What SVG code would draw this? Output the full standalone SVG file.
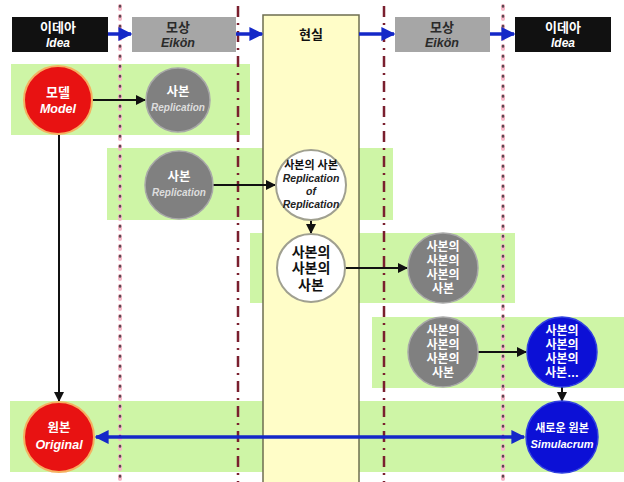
<svg xmlns="http://www.w3.org/2000/svg" width="624" height="482" viewBox="0 0 624 482">
<style>
text{font-family:"Liberation Sans","Noto Sans CJK KR",sans-serif;font-weight:bold;text-anchor:middle}
.it{font-style:italic}
.w{fill:#ffffff}
.k{fill:#111111}
.band{fill:#cef5a6}
.dot{fill:none;stroke:#f5b5c5;stroke-width:4;stroke-dasharray:3 7;stroke-linecap:round}
.dotc{fill:none;stroke:#5a4a50;stroke-width:2.5;stroke-dasharray:0.5 9.5;stroke-linecap:round}
.dd{fill:none;stroke:#7a1f2e;stroke-width:2.5;stroke-dasharray:11 6 2 6}
.blk{stroke:#111;stroke-width:2;fill:none}
.blu{stroke:#1428c8;stroke-width:3.5;fill:none}
.red{fill:#e81212;stroke:#f5b060;stroke-width:2}
.gray{fill:#808080;stroke:#a8a8a8;stroke-width:1.5}
.wht{fill:#ffffff;stroke:#a0a090;stroke-width:2}
.blue{fill:#0c10d6;stroke:#3040e0;stroke-width:1.5}
</style>
<defs>
<marker id="ak" viewBox="0 0 10 10" refX="9" refY="5" markerWidth="5" markerHeight="5" orient="auto-start-reverse" markerUnits="strokeWidth">
<path d="M0,0L10,5L0,10z" fill="#111"/>
</marker>
<marker id="ab" viewBox="0 0 10 10" refX="9" refY="5" markerWidth="4" markerHeight="4" orient="auto-start-reverse" markerUnits="strokeWidth">
<path d="M0,0L10,5L0,10z" fill="#1428c8"/>
</marker>
</defs>
<rect width="624" height="482" fill="#ffffff"/>
<g id="bands">
<rect class="band" x="11" y="64" width="239" height="71"/>
<rect class="band" x="107" y="148" width="286" height="72"/>
<rect class="band" x="250" y="233" width="265" height="70"/>
<rect class="band" x="372" y="317" width="252" height="71"/>
<rect class="band" x="10" y="401" width="614" height="71"/>
</g>
<g id="reality">
<rect x="263" y="15" width="96" height="475" fill="#fffdc8" stroke="#6e6e50" stroke-width="1.5"/>
<text class="k" x="311" y="39" font-size="13">현실</text>
</g>
<g id="separators">
<line class="dot" x1="120" y1="6" x2="120" y2="482"/>
<line class="dotc" x1="120" y1="6" x2="120" y2="482"/>
<line class="dd" x1="238" y1="6" x2="238" y2="482"/>
<line class="dd" x1="384" y1="6" x2="384" y2="482"/>
<line class="dot" x1="503" y1="6" x2="503" y2="482"/>
<line class="dotc" x1="503" y1="6" x2="503" y2="482"/>
</g>
<g id="header-idea-left">
<rect x="12" y="17" width="96" height="35" fill="#111"/>
<text class="w" x="58" y="32" font-size="13">이데아</text>
<text class="w it" x="58" y="47" font-size="12">Idea</text>
</g>
<g id="header-eikon-left">
<rect x="132" y="17" width="104" height="35" fill="#a6a6a6"/>
<text x="178" y="32" font-size="13" fill="#2a2a2a">모상</text>
<text class="it" x="178" y="47" font-size="12.5" fill="#2a2a2a">Eikön</text>
</g>
<g id="header-eikon-right">
<rect x="395" y="17" width="95" height="35" fill="#a6a6a6"/>
<text x="442" y="32" font-size="13" fill="#2a2a2a">모상</text>
<text class="it" x="442" y="47" font-size="12.5" fill="#2a2a2a">Eikön</text>
</g>
<g id="header-idea-right">
<rect x="515" y="17" width="96" height="35" fill="#111"/>
<text class="w" x="563" y="32" font-size="13">이데아</text>
<text class="w it" x="563" y="47" font-size="12">Idea</text>
</g>
<g id="connectors">
<line class="blu" x1="108" y1="34" x2="131" y2="34" marker-end="url(#ab)"/>
<line class="blu" x1="236" y1="34" x2="262" y2="34" marker-end="url(#ab)"/>
<line class="blu" x1="359" y1="34" x2="394" y2="34" marker-end="url(#ab)"/>
<line class="blu" x1="490" y1="34" x2="514" y2="34" marker-end="url(#ab)"/>
<line class="blk" x1="92" y1="100" x2="145" y2="100" marker-end="url(#ak)"/>
<line class="blk" x1="59" y1="135" x2="59" y2="401" marker-end="url(#ak)"/>
<line class="blk" x1="213" y1="185" x2="275" y2="185" marker-end="url(#ak)"/>
<line class="blk" x1="311" y1="220" x2="311" y2="233" marker-end="url(#ak)"/>
<line class="blk" x1="345" y1="268" x2="407" y2="268" marker-end="url(#ak)"/>
<line class="blk" x1="478" y1="352" x2="526" y2="352" marker-end="url(#ak)"/>
<line class="blk" x1="562" y1="387" x2="562" y2="401" marker-end="url(#ak)"/>
<line class="blu" x1="96" y1="437" x2="524" y2="437" marker-start="url(#ab)" marker-end="url(#ab)"/>
</g>
<g id="model">
<circle class="red" cx="58" cy="100" r="34"/>
<text class="w" x="58" y="97" font-size="13">모델</text>
<text class="w it" x="58" y="113" font-size="12.5">Model</text>
</g>
<g id="replication-1">
<circle class="gray" cx="178" cy="100" r="32"/>
<text class="w" x="178" y="96" font-size="12.5">사본</text>
<text class="it" x="178" y="111" font-size="10" fill="#dddddd">Replication</text>
</g>
<g id="replication-2">
<circle class="gray" cx="179" cy="185" r="34"/>
<text class="w" x="179" y="181" font-size="12.5">사본</text>
<text class="it" x="179" y="196" font-size="10" fill="#dddddd">Replication</text>
</g>
<g id="replication-of-replication">
<circle class="wht" cx="311" cy="185" r="35"/>
<text class="k" x="311" y="169" font-size="11">사본의 사본</text>
<text class="it" x="311" y="182" font-size="10.5" fill="#222">Replication</text>
<text class="it" x="311" y="195" font-size="10.5" fill="#222">of</text>
<text class="it" x="311" y="208" font-size="10.5" fill="#222">Replication</text>
</g>
<g id="copy-3">
<circle class="wht" cx="311" cy="268" r="34"/>
<text class="k" x="311" y="257" font-size="14">사본의</text>
<text class="k" x="311" y="273" font-size="14">사본의</text>
<text class="k" x="311" y="290" font-size="14">사본</text>
</g>
<g id="copy-4a">
<circle class="gray" cx="443" cy="268" r="35"/>
<text class="w" x="443" y="251" font-size="12">사본의</text>
<text class="w" x="443" y="265" font-size="12">사본의</text>
<text class="w" x="443" y="279" font-size="12">사본의</text>
<text class="w" x="443" y="293" font-size="12">사본</text>
</g>
<g id="copy-4b">
<circle class="gray" cx="443" cy="352" r="35"/>
<text class="w" x="443" y="335" font-size="12">사본의</text>
<text class="w" x="443" y="349" font-size="12">사본의</text>
<text class="w" x="443" y="363" font-size="12">사본의</text>
<text class="w" x="443" y="377" font-size="12">사본</text>
</g>
<g id="copy-n">
<circle class="blue" cx="562" cy="352" r="35"/>
<text class="w" x="562" y="335" font-size="12">사본의</text>
<text class="w" x="562" y="349" font-size="12">사본의</text>
<text class="w" x="562" y="363" font-size="12">사본의</text>
<text class="w" x="562" y="377" font-size="12">사본…</text>
</g>
<g id="simulacrum">
<circle class="blue" cx="562" cy="437" r="36"/>
<text class="w" x="562" y="432" font-size="11">새로운 원본</text>
<text class="w it" x="562" y="448" font-size="11">Simulacrum</text>
</g>
<g id="original">
<circle class="red" cx="59" cy="437" r="35"/>
<text class="w" x="59" y="432" font-size="12.5">원본</text>
<text class="w it" x="59" y="449" font-size="12.5">Original</text>
</g>
</svg>
